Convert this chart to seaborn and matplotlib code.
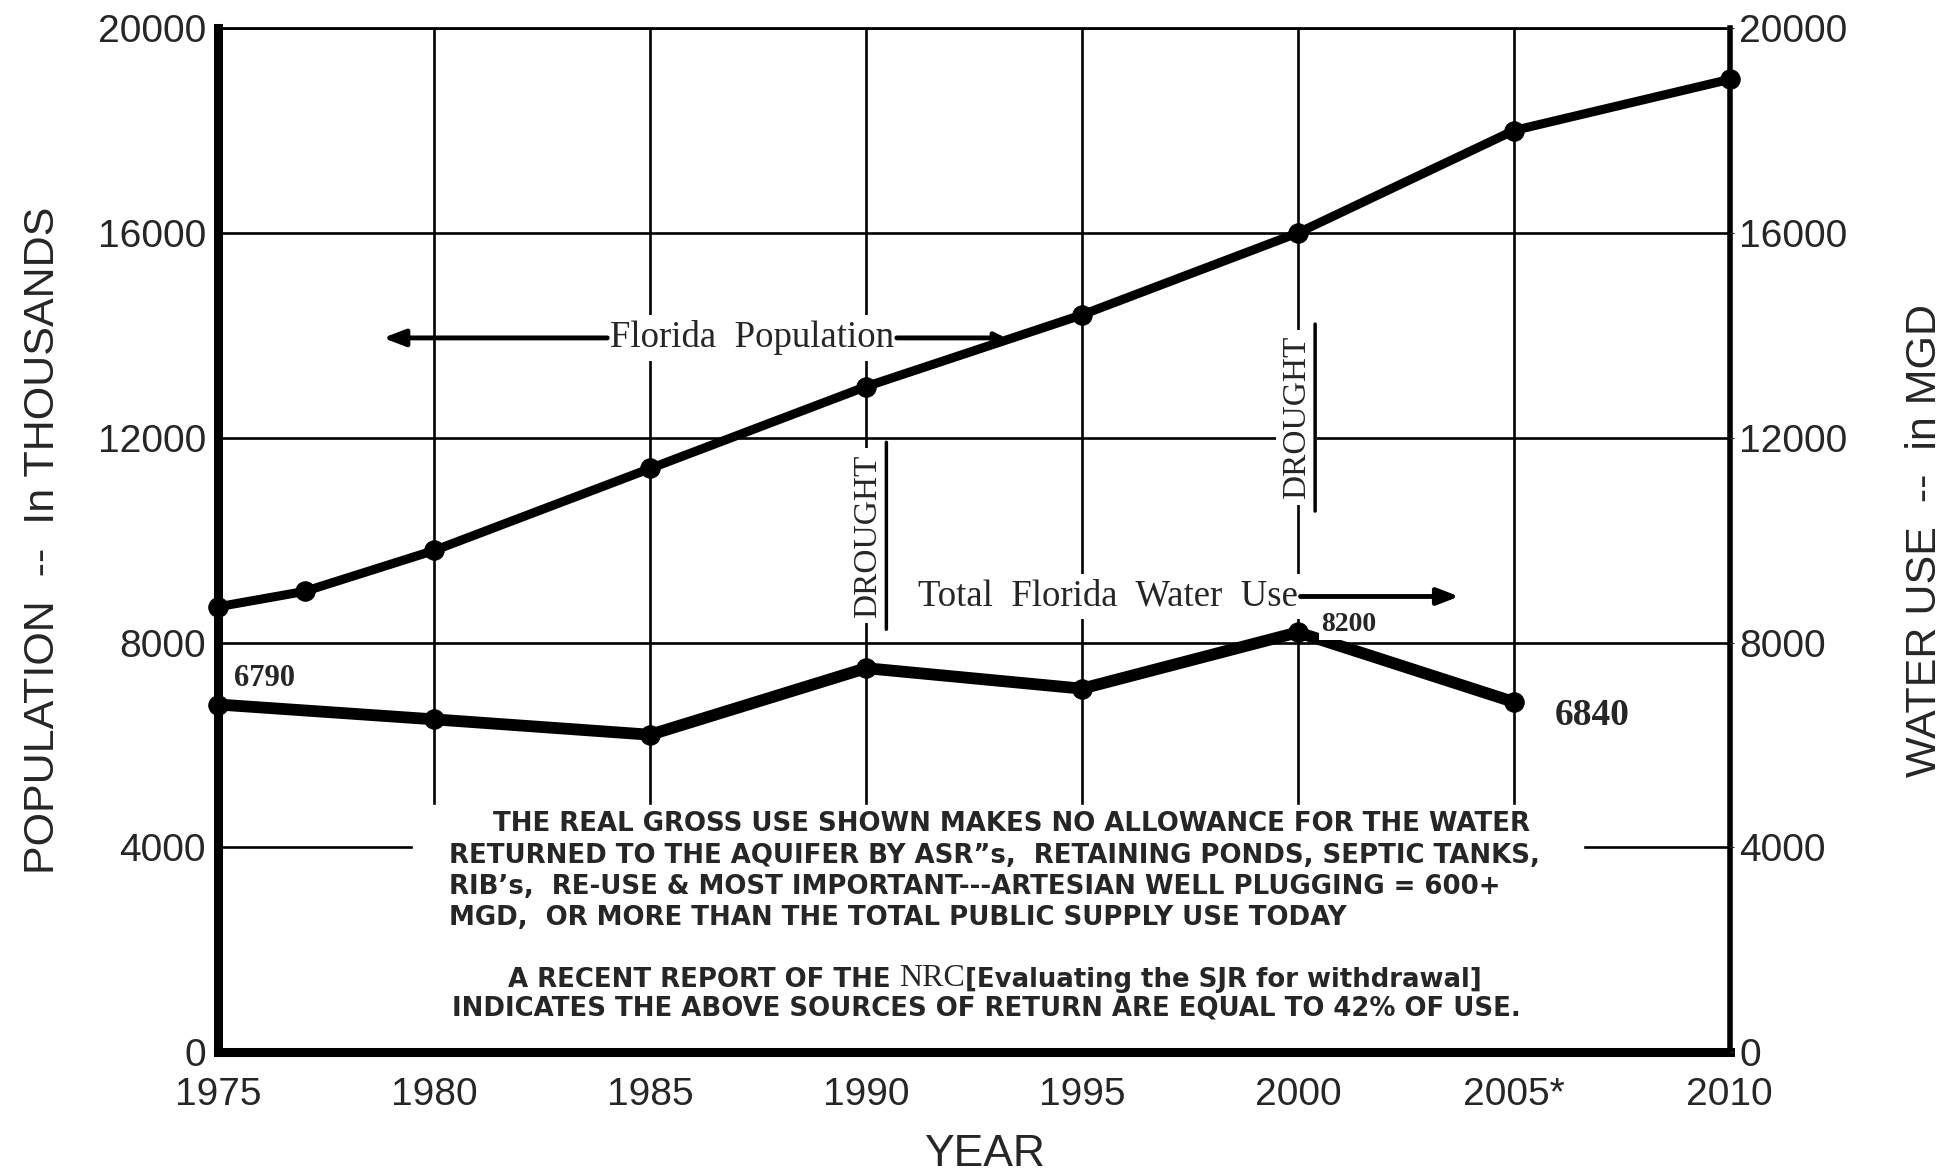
import matplotlib
matplotlib.use("Agg")
import matplotlib.pyplot as plt
import seaborn as sns
import pandas as pd

# values
pop_years = [1975, 1977, 1980, 1985, 1990, 1995, 2000, 2005, 2010]
population = [8700, 9000, 9800, 11400, 13000, 14400, 16000, 18000, 19000]
water_years = [1975, 1980, 1985, 1990, 1995, 2000, 2005]
water_use = [6790, 6500, 6200, 7500, 7100, 8200, 6840]
x_ticks = [1975, 1980, 1985, 1990, 1995, 2000, 2005, 2010]
x_labels = ["1975", "1980", "1985", "1990", "1995", "2000", "2005*", "2010"]
y_ticks = [0, 4000, 8000, 12000, 16000, 20000]

note_lines = [
    "THE REAL GROSS USE SHOWN MAKES NO ALLOWANCE FOR THE WATER",
    "RETURNED TO THE AQUIFER BY ASR\u201ds,  RETAINING PONDS, SEPTIC TANKS,",
    "RIB\u2019s,  RE-USE & MOST IMPORTANT---ARTESIAN WELL PLUGGING = 600+",
    "MGD,  OR MORE THAN THE TOTAL PUBLIC SUPPLY USE TODAY",
]

pop_df = pd.DataFrame({"year": pop_years, "population": population})
water_df = pd.DataFrame({"year": water_years, "water": water_use})

sns.set_style("white")
plt.rcParams["font.family"] = ["Liberation Sans", "DejaVu Sans"]

fig = plt.figure(figsize=(19.5, 11.73), dpi=100)
ax = fig.add_axes([0.112, 0.103, 0.775, 0.873])

sns.lineplot(data=pop_df, x="year", y="population", ax=ax, color="black",
             linewidth=6.5, marker="o", markersize=14, markeredgecolor="black",
             zorder=5, clip_on=False)
sns.lineplot(data=water_df, x="year", y="water", ax=ax, color="black",
             linewidth=8.5, marker="o", markersize=14, markeredgecolor="black",
             zorder=5, clip_on=False)

ax.set_xlim(1975, 2010)
ax.set_ylim(0, 20000)
ax.set_xticks(x_ticks)
ax.set_xticklabels(x_labels)
ax.set_yticks(y_ticks)
ax.tick_params(axis="both", labelsize=28, length=3, color="black")
ax.tick_params(axis="x", pad=15)
ax.tick_params(axis="y", pad=6)
ax.grid(True, color="black", linewidth=1.9)
ax.set_axisbelow(True)
for side, lw in [("left", 6.5), ("bottom", 6.5), ("right", 4), ("top", 2)]:
    ax.spines[side].set_color("black")
    ax.spines[side].set_linewidth(lw)

# blank area behind the note, as in the scan
ax.axvspan(1979.5, 2006.6, ymin=0, ymax=0.2415, color="white", zorder=1)

ax.set_xlabel("YEAR", fontsize=32)
ax.xaxis.set_label_coords(0.507, -0.080)
ax.set_ylabel("POPULATION  --  In THOUSANDS", fontsize=31)
ax.yaxis.set_label_coords(-0.1025, 0.5)

ax2 = ax.twinx()
ax2.set_ylim(0, 20000)
ax2.set_yticks(y_ticks)
ax2.tick_params(axis="y", labelsize=28, length=3, pad=4)
ax2.set_ylabel("WATER USE  --  in MGD", fontsize=31)
ax2.yaxis.set_label_coords(1.116, 0.5)
for s in ax2.spines.values():
    s.set_visible(False)

serif = ["Liberation Serif", "DejaVu Serif"]
white = dict(facecolor="white", edgecolor="none", pad=4)

# series labels with arrows
t_pop = ax.text(1984.07, 13950, "Florida  Population", family=serif,
                fontsize=26.5, va="center", ha="left", bbox=white, zorder=4)
ax.annotate("", xy=(1978.75, 13950), xytext=(0, 0.5), textcoords=t_pop,
            arrowprops=dict(arrowstyle="-|>,head_length=1.3,head_width=0.5",
                            color="black", lw=3.5), zorder=4)
ax.annotate("", xy=(1993.3, 13950), xytext=(1, 0.5), textcoords=t_pop,
            arrowprops=dict(arrowstyle="-|>,head_length=0.6,head_width=0.3",
                            color="black", lw=3.5), zorder=4)
t_wat = ax.text(1991.2, 8900, "Total  Florida  Water  Use", family=serif,
                fontsize=26.5, va="center", ha="left", bbox=white, zorder=4)
ax.annotate("", xy=(2003.8, 8900), xytext=(1, 0.5), textcoords=t_wat,
            arrowprops=dict(arrowstyle="-|>,head_length=1.3,head_width=0.5",
                            color="black", lw=3.5), zorder=4)

# drought markers
for yr, yv in [(1990.04, 10085), (1999.97, 12394)]:
    ax.text(yr, yv, "DROUGHT", family=serif, fontsize=24, rotation=90,
            va="center", ha="center", bbox=white, zorder=4)
    ax.annotate("", xy=(yr + 0.43, yv - 1880), xytext=(yr + 0.43, yv + 1880),
                arrowprops=dict(arrowstyle="-", color="black", lw=2.5), zorder=4)

# point labels on water use
ax.text(1975.35, 7300, "6790", family=serif, fontsize=22, fontweight="bold",
        va="center", ha="left", zorder=6)
ax.text(2000.55, 8350, "8200", family=serif, fontsize=20, fontweight="bold",
        va="center", ha="left", zorder=6, bbox=dict(facecolor="white",
                                                    edgecolor="none", pad=2))
ax.text(2005.95, 6570, "6840", family=serif, fontsize=27, fontweight="bold",
        va="center", ha="left", zorder=6)

# note block
note_x = [1981.35, 1980.35, 1980.35, 1980.35]
note_y = [4447, 3840, 3232, 2625]
for txt, nx, ny in zip(note_lines, note_x, note_y):
    ax.text(nx, ny, txt, fontsize=18.7, fontweight="bold", family="DejaVu Sans",
            va="center", ha="left", zorder=4)

t1 = ax.text(1981.7, 1270, "A RECENT REPORT OF THE ", fontsize=18.7,
             fontweight="bold", family="DejaVu Sans", va="baseline", ha="left",
             zorder=4)
t2 = ax.annotate("NRC", xy=(1, 0), xycoords=t1, fontsize=23, family=serif,
                 va="bottom", ha="left", zorder=4)
ax.annotate("[Evaluating the SJR for withdrawal]", xy=(1, 0), xycoords=t2,
            fontsize=18.7, fontweight="bold", family="DejaVu Sans",
            va="bottom", ha="left", zorder=4)
ax.text(1980.4, 850, "INDICATES THE ABOVE SOURCES OF RETURN ARE EQUAL TO 42% OF USE.",
        fontsize=18.7, fontweight="bold", family="DejaVu Sans", va="center",
        ha="left", zorder=4)

fig.savefig("out.png", dpi=100, facecolor="white")
